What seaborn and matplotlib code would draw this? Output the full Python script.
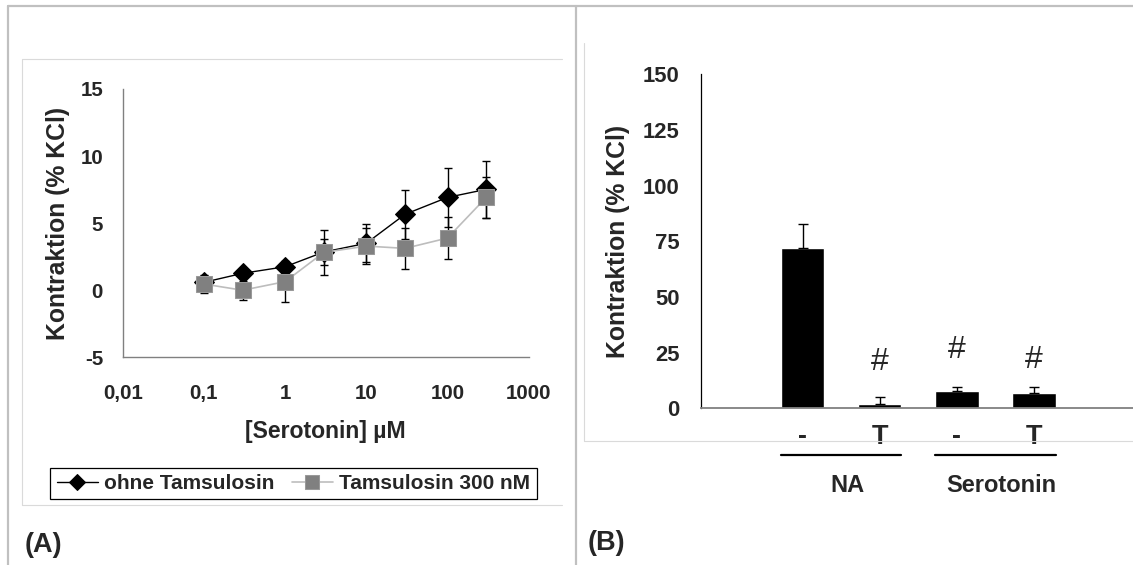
import numpy as np
import pandas as pd
import matplotlib
matplotlib.use('Agg')
import matplotlib.pyplot as plt
import matplotlib.transforms as mtransforms
from matplotlib.lines import Line2D
import seaborn as sns

# Panel A: Konzentrations-Wirkungs-Kurve
konz = [0.1, 0.3, 1, 3, 10, 30, 100, 300]
ohne_tams = [0.59, 1.26, 1.75, 2.85, 3.5, 5.66, 6.92, 7.52]
ohne_tams_err = [0.5, 0.3, 0.3, 1.0, 1.4, 1.81, 2.2, 2.13]
mit_tams = [0.46, 0.0, 0.64, 2.82, 3.29, 3.12, 3.89, 6.92]
mit_tams_err = [0.7, 0.7, 1.55, 1.65, 1.35, 1.52, 1.55, 1.5]
x_ticks = [0.01, 0.1, 1, 10, 100, 1000]
x_ticklabels = ['0,01', '0,1', '1', '10', '100', '1000']

# Panel B: Balken
gruppen = ['NA -', 'NA T', '5-HT -', '5-HT T']
balken_labels = ['-', 'T', '-', 'T']
balken = [72.2, 2.1, 7.8, 7.0]
balken_err = [10.6, 3.1, 1.9, 2.7]
raute_idx = [1, 2, 3]
raute_hoehe = [20.7, 26.4, 21.5]
gruppen_namen = ['NA', 'Serotonin']
gruppen_idx = [[0, 1], [2, 3]]

W, H = 1133, 565

sns.set_style('white')
plt.rcParams['font.family'] = ['Liberation Sans', 'DejaVu Sans']
plt.rcParams['font.weight'] = 'bold'
plt.rcParams['axes.unicode_minus'] = False

fig = plt.figure(figsize=(W / 100, H / 100), dpi=100)
fig.patch.set_facecolor('white')


def fline(x0, y0, x1, y1, color, lw):
    fig.add_artist(Line2D([x0 / W, x1 / W], [1 - y0 / H, 1 - y1 / H],
                          transform=fig.transFigure, color=color, lw=lw))


# outer frames
fline(8, 6, W, 6, '#c0c0c0', 1.6)
fline(8, 6, 8, H, '#c0c0c0', 1.6)
fline(576, 6, 576, H, '#c0c0c0', 1.6)
# inner frames
fline(22, 59, 562, 59, '#dadada', 0.8)
fline(22, 59, 22, 505, '#dadada', 0.8)
fline(22, 505, 562, 505, '#dadada', 0.8)
fline(584, 43, 584, 441, '#dadada', 0.8)
fline(584, 441, W, 441, '#dadada', 0.8)

# ---------------- Panel A ----------------
axA = fig.add_axes([122.7 / W, 1 - 357.3 / H, 406 / W, 268.3 / H])
axA.set_facecolor('none')
axA.errorbar(konz, ohne_tams, yerr=ohne_tams_err, fmt='none', ecolor='black',
             elinewidth=1, capsize=3, capthick=1, zorder=1)
axA.errorbar(konz, mit_tams, yerr=mit_tams_err, fmt='none', ecolor='black',
             elinewidth=1, capsize=3, capthick=1, zorder=1)
sns.lineplot(x=konz, y=ohne_tams, ax=axA, color='black', lw=1, marker='D',
             markersize=9.8, markerfacecolor='black', markeredgecolor='black',
             label='ohne Tamsulosin', zorder=3)
sns.lineplot(x=konz, y=mit_tams, ax=axA, color='#bdbdbd', lw=1.2, marker='s',
             markersize=11.8, markerfacecolor='#808080', markeredgecolor='#999999',
             label='Tamsulosin 300 nM', zorder=4)
axA.set_xscale('log')
axA.set_xlim(0.01, 1000)
axA.set_ylim(-5, 15)
axA.set_xticks(x_ticks)
axA.set_xticklabels(x_ticklabels)
axA.minorticks_off()
axA.set_yticks([-5, 0, 5, 10, 15])
for s in ['top', 'right']:
    axA.spines[s].set_visible(False)
for s in ['left', 'bottom']:
    axA.spines[s].set_color('#808080')
    axA.spines[s].set_linewidth(1)
axA.tick_params(axis='both', direction='out', color='#808080', length=5.5, width=1,
                labelsize=14.8)
axA.tick_params(axis='x', pad=14)
axA.tick_params(axis='y', pad=8.6)
axA.set_xlabel('[Serotonin] µM', fontsize=16.6, fontweight='bold', labelpad=12)
axA.set_ylabel('Kontraktion (% KCl)', fontsize=17.8, fontweight='bold', labelpad=7.5)

handles, labels = axA.get_legend_handles_labels()
leg = axA.legend(handles, labels, loc='center',
                 bbox_to_anchor=(293.5 / W, 1 - 483.5 / H), bbox_transform=fig.transFigure,
                 ncol=2, frameon=True, fancybox=False, edgecolor='black', framealpha=1,
                 borderpad=0.3, handlelength=2.0, handletextpad=0.3, columnspacing=0.8,
                 markerscale=0.85, prop={'size': 15, 'weight': 'bold'})
leg.get_frame().set_linewidth(0.9)

# ---------------- Panel B ----------------
axB = fig.add_axes([701 / W, 1 - 408.3 / H, 432 / W, 334 / H])
axB.set_facecolor('none')
df_b = pd.DataFrame({'gruppe': gruppen, 'wert': balken})
sns.barplot(data=df_b, x='gruppe', y='wert', order=gruppen, color='black',
            width=0.563, errorbar=None, ax=axB, saturation=1)
pos = np.arange(len(balken))
axB.errorbar(pos, balken, yerr=[np.zeros(len(balken)), balken_err], fmt='none',
             ecolor='black', elinewidth=1, capsize=3.5, capthick=1)
axB.set_xlim(-1.315, 4.28)
axB.set_ylim(0, 150)
axB.set_yticks(np.arange(0, 151, 25))
axB.set_xticks(pos)
axB.set_xticklabels(balken_labels, fontsize=19.5, fontweight='bold')
axB.set_xlabel('')
axB.set_ylabel('Kontraktion (% KCl)', fontsize=17.8, fontweight='bold', labelpad=9)
for s in ['top', 'right']:
    axB.spines[s].set_visible(False)
axB.spines['left'].set_color('black')
axB.spines['left'].set_linewidth(0.9)
axB.spines['bottom'].set_color('#808080')
axB.spines['bottom'].set_linewidth(1.3)
axB.tick_params(axis='y', direction='out', color='black', length=4.8, width=0.9,
                labelsize=15.8, pad=10.8)
axB.tick_params(axis='x', length=0, pad=11)

for i, h in zip(raute_idx, raute_hoehe):
    axB.text(i, h, '#', ha='center', va='center', fontsize=23, fontweight='normal')

trans = mtransforms.blended_transform_factory(axB.transData, axB.transAxes)
for name, idx in zip(gruppen_namen, gruppen_idx):
    x0, x1 = idx[0] - 0.28, idx[-1] + 0.28
    axB.plot([x0, x1], [-0.1407, -0.1407], transform=trans, clip_on=False,
             color='black', lw=1.6)
    axB.text((x0 + x1) / 2 + 0.08, -0.2326, name, transform=trans, ha='center',
             va='center', fontsize=17, fontweight='bold')

fig.text(25 / W, 1 - 545 / H, '(A)', ha='left', va='center', fontsize=19.5, fontweight='bold')
fig.text(588 / W, 1 - 542.5 / H, '(B)', ha='left', va='center', fontsize=19.5, fontweight='bold')

fig.savefig('out.png', dpi=100, facecolor='white')
